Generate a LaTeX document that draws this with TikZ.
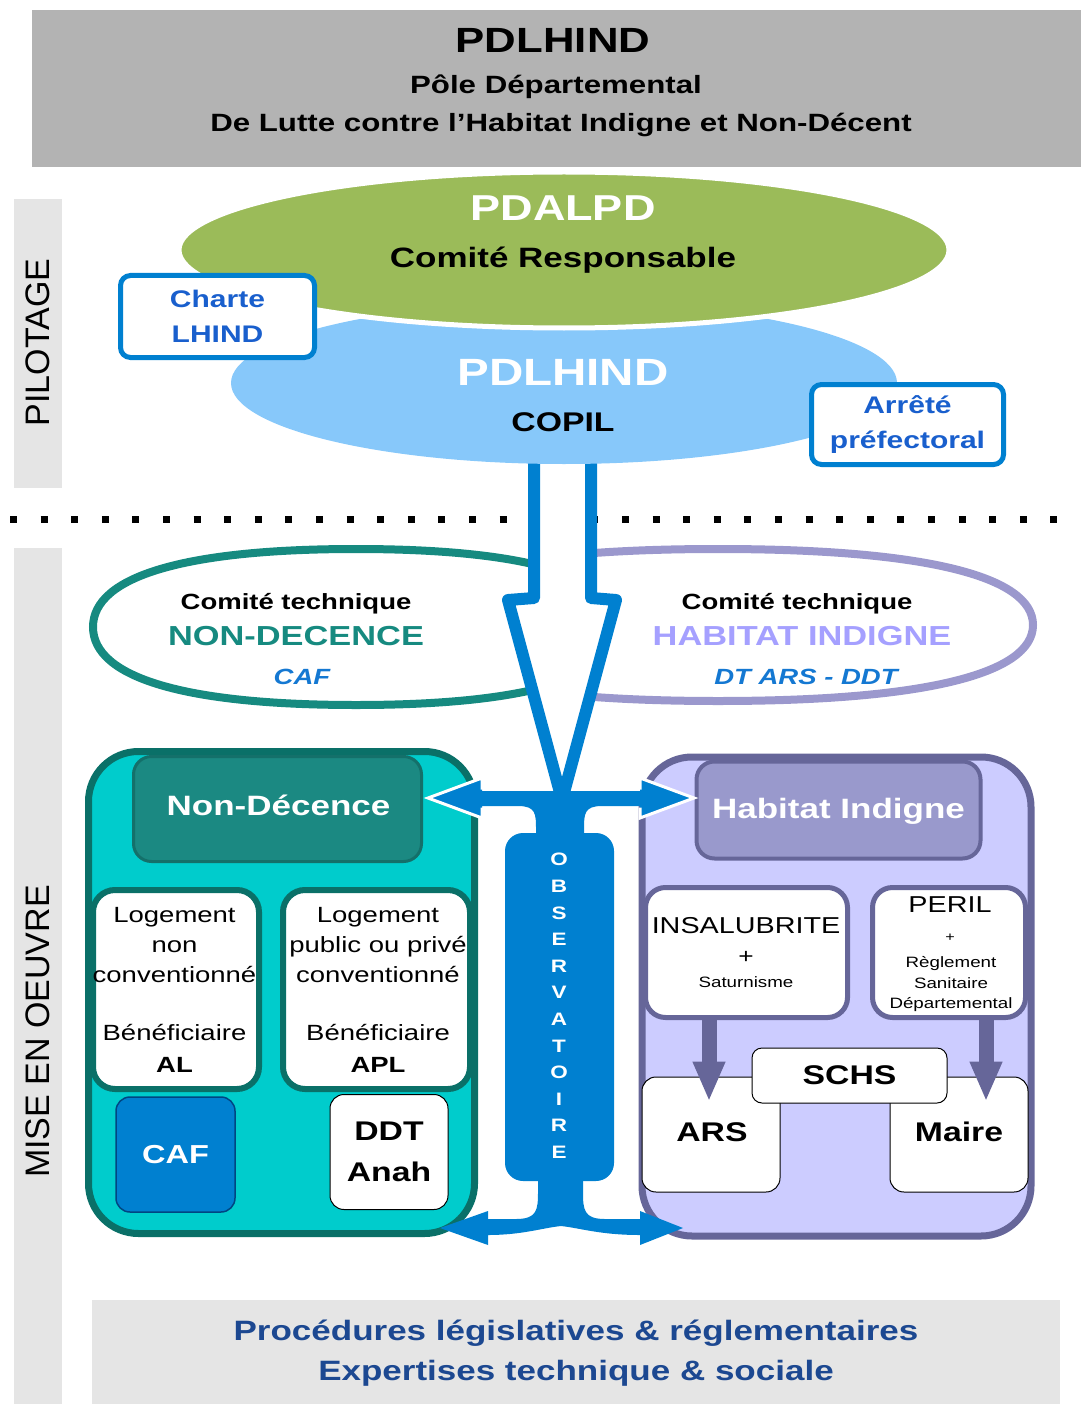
\documentclass[tikz,border=0pt]{standalone}
\usepackage{fontspec}
\setmainfont{Liberation Sans}[FakeStretch=1.25]
\newfontfamily\plainsans{Liberation Sans}
\usetikzlibrary{shapes.geometric,arrows.meta}
\newcommand\fsz[2]{\fontsize{#1pt}{#2pt}\selectfont}
\definecolor{hdrgrey}{RGB}{179,179,179}
\definecolor{sidegrey}{RGB}{229,229,229}
\definecolor{pgreen}{RGB}{155,187,89}
\definecolor{pblue}{RGB}{135,200,250}
\definecolor{abl}{RGB}{0,128,208}
\definecolor{txtblue}{RGB}{25,95,205}
\definecolor{teal1}{RGB}{22,138,128}
\definecolor{lav1}{RGB}{155,152,205}
\definecolor{lavtxt}{RGB}{165,160,255}
\definecolor{itblue}{RGB}{20,120,210}
\definecolor{cyanfill}{RGB}{0,204,204}
\definecolor{tealborder}{RGB}{10,112,104}
\definecolor{tealhead}{RGB}{27,137,130}
\definecolor{tealhd2}{RGB}{20,112,106}
\definecolor{lavfill}{RGB}{204,204,255}
\definecolor{lavborder}{RGB}{102,102,153}
\definecolor{lavhead}{RGB}{153,153,204}
\definecolor{navy}{RGB}{28,72,145}
\definecolor{cafb}{RGB}{0,70,130}
\begin{document}
\begin{tikzpicture}[x=1pt,y=-1pt,
  tx/.style={anchor=base,inner sep=0pt},
  bx/.style={rectangle,inner sep=0pt},
  chbox/.style={bx,draw=abl,line width=5pt,fill=white,rounded corners=10pt,align=center,font=\fsz{24}{35}\bfseries,text=txtblue},
  ndsub/.style={bx,fill=white,draw=tealborder,line width=6pt,rounded corners=22pt},
  hisub/.style={bx,fill=white,draw=lavborder,line width=5pt,rounded corners=20pt},
  agency/.style={bx,fill=white,draw=black,line width=1pt,rounded corners=14pt},
  bigtxt/.style={tx,font=\fsz{27}{30}\bfseries},
  linetxt/.style={align=center,font=\fsz{22}{30}},
  harrow/.style={lavborder,line width=15pt,-{Triangle[width=30pt,length=40pt]}}
]
\path[use as bounding box] (0,0) rectangle (1086,1404);

% ---------- header ----------
\node[bx,fill=hdrgrey,minimum width=1049pt,minimum height=157pt] (hdr) at (556.5,88.5) {};
\node[tx,font=\fsz{35}{40}\bfseries] (t1) at (553,53) {PDLHIND};
\node[tx,font=\fsz{25}{30}\bfseries] (t2) at (556,94) {Pôle Départemental};
\node[tx,font=\fsz{25}{30}\bfseries] (t3) at (561,132) {De Lutte contre l'Habitat Indigne et Non-Décent};

% ---------- side bars ----------
\node[bx,fill=sidegrey,minimum width=48pt,minimum height=289pt] (pilbar) at (37.5,343.5) {};
\node[rotate=90,inner sep=0pt,font=\plainsans\fsz{34}{40}] (pil) at (37.5,342.5) {PILOTAGE};
\node[bx,fill=sidegrey,minimum width=48pt,minimum height=862pt] (meobar) at (37.5,979) {};
\node[rotate=90,inner sep=0pt,font=\plainsans\fsz{34}{40}] (meo) at (37.5,1031.5) {MISE EN OEUVRE};

% ---------- dotted separator ----------
\coordinate (dl) at (10,519);
\coordinate (dr) at (1075,519);
\draw[line width=7pt,dash pattern=on 7pt off 23.6pt] (dl) -- (dr);

% ---------- comites techniques ----------
\begin{scope}
\clip (60,530) rectangle (560,730);
\draw[teal1,line width=8pt,fill=white] (619,627) .. controls (619,677.7) and (527,705) .. (356,705) .. controls (185,705) and (93,677.7) .. (93,627) .. controls (93,576.3) and (185,549) .. (356,549) .. controls (527,549) and (619,576.3) .. (619,627) -- cycle;
\end{scope}
\begin{scope}
\clip (560,530) rectangle (1060,730);
\draw[lav1,line width=8pt,fill=white] (1033,625) .. controls (1033,674.4) and (922.75,701) .. (718,701) .. controls (513.25,701) and (403,674.4) .. (403,625) .. controls (403,575.6) and (513.25,549) .. (718,549) .. controls (922.75,549) and (1033,575.6) .. (1033,625) -- cycle;
\end{scope}
\node[tx,font=\fsz{22}{26}\bfseries] (ct1) at (296,609) {Comité technique};
\node[tx,font=\fsz{27.5}{30}\bfseries,text=teal1] (ndc) at (296,645) {NON-DECENCE};
\node[tx,font=\fsz{22}{26}\bfseries\itshape,text=itblue] (cafc) at (302,684) {CAF};
\node[tx,font=\fsz{22}{26}\bfseries] (ct2) at (797,609) {Comité technique};
\node[tx,font=\fsz{27.5}{30}\bfseries,text=lavtxt] (hic) at (802,645) {HABITAT INDIGNE};
\node[tx,font=\fsz{22}{26}\bfseries\itshape,text=itblue] (dtc) at (806,684) {DT ARS - DDT};

% ---------- big hollow arrow ----------
\draw[abl,line width=12pt,line join=round,fill=white] (534,430) -- (534,598) -- (508,600) -- (562,800) -- (616,600) -- (591,598) -- (591,430);

% ---------- pilotage ellipses ----------
\node[ellipse,fill=pblue,inner sep=0pt,minimum width=666pt,minimum height=162pt] (copil) at (564,383) {};
\node[ellipse,fill=pgreen,draw=white,line width=5pt,inner sep=0pt,minimum width=770pt,minimum height=156pt] (pdalpd) at (564,250) {};
\node[tx,font=\fsz{36}{40}\bfseries,text=white] (t4) at (563,221) {PDALPD};
\node[tx,font=\fsz{28}{32}\bfseries] (t5) at (563,268) {Comité Responsable};
\node[tx,font=\fsz{38}{40}\bfseries,text=white] (t6) at (563,385.5) {PDLHIND};
\node[tx,font=\fsz{27}{30}\bfseries] (t7) at (563,431) {COPIL};

\node[chbox,minimum width=194pt,minimum height=82pt] (charte) at (217.5,316.5) {Charte\\LHIND};
\node[chbox,minimum width=192pt,minimum height=80pt] (arrete) at (907.5,424.5) {Arrêté\\préfectoral};

% ---------- Non-Decence block ----------
\node[bx,fill=cyanfill,draw=tealborder,line width=7pt,rounded corners=50pt,minimum width=386pt,minimum height=482pt] (ndbox) at (281.5,992.5) {};
\node[bx,fill=tealhead,draw=tealhd2,line width=3pt,rounded corners=18pt,minimum width=288pt,minimum height=105pt] (ndhead) at (277.5,809) {};
\node[tx,font=\fsz{28}{32}\bfseries,text=white] (ndheadt) at (278.5,815) {Non-Décence};
\node[ndsub,minimum width=166pt,minimum height=199pt] (lognc) at (176,989.5) {};
\node[linetxt] (lognct) at (174.5,990) {Logement\\non\\conventionné\\[28pt]Bénéficiaire\\[2pt]\textbf{AL}};
\node[ndsub,minimum width=187pt,minimum height=199pt] (logc) at (376.5,989.5) {};
\node[linetxt] (logct) at (378,990) {Logement\\public ou privé\\conventionné\\[28pt]Bénéficiaire\\[2pt]\textbf{APL}};
\node[bx,fill=abl,draw=cafb,line width=1.5pt,rounded corners=14pt,minimum width=119pt,minimum height=115pt,font=\fsz{26}{30}\bfseries,text=white] (caf) at (175.5,1154.5) {CAF};
\node[agency,minimum width=118pt,minimum height=115pt,align=center,font=\fsz{27}{41}\bfseries] (ddt) at (389,1152) {DDT\\Anah};

% ---------- Habitat Indigne block ----------
\node[bx,fill=lavfill,draw=lavborder,line width=7pt,rounded corners=50pt,minimum width=389pt,minimum height=479pt] (hibox) at (836.5,996.5) {};
\node[bx,fill=lavhead,draw=lavborder,line width=4pt,rounded corners=18pt,minimum width=284pt,minimum height=97pt] (hihead) at (838.5,810) {};
\node[tx,font=\fsz{28}{32}\bfseries,text=white] (hiheadt) at (838.5,818) {Habitat Indigne};
\node[hisub,minimum width=202pt,minimum height=130pt] (insal) at (746.5,952.5) {};
\node[tx,font=\fsz{23}{26}] (ins1) at (746,933.5) {INSALUBRITE};
\node[tx,font=\fsz{21}{24}] (ins2) at (746,963) {+};
\node[tx,font=\fsz{15}{18}] (ins3) at (746,987) {Saturnisme};
\node[hisub,minimum width=153pt,minimum height=130pt] (peril) at (949,952.5) {};
\node[tx,font=\fsz{23}{26}] (per1) at (950,912.5) {PERIL};
\node[tx,font=\fsz{13}{14}] (per2) at (950,941.5) {+};
\node[tx,font=\fsz{15}{18}] (per3) at (951,967) {Règlement};
\node[tx,font=\fsz{15}{18}] (per4) at (951,988) {Sanitaire};
\node[tx,font=\fsz{15}{18}] (per5) at (951,1008) {Départemental};
\node[agency,minimum width=138pt,minimum height=115pt] (ars) at (711,1134.5) {};
\node[bigtxt] (arst) at (712,1141) {ARS};
\node[agency,minimum width=138pt,minimum height=115pt] (maire) at (959,1134.5) {};
\node[bigtxt] (mairet) at (959,1141) {Maire};
\node[agency,rounded corners=10pt,minimum width=195pt,minimum height=55pt,font=\fsz{27}{30}\bfseries] (schs) at (849.5,1075.5) {SCHS};
\draw[harrow] ([xshift=-37.5pt]insal.south) -- ([xshift=-2pt,yshift=-25pt]ars.north);
\draw[harrow] ([xshift=37pt]peril.south) -- ([xshift=27pt,yshift=-25pt]maire.north);

% ---------- observatoire and its double arrows ----------
\fill[abl] (428,798) -- (482,778) -- (482,791) -- (640,791) -- (640,778) -- (694,798) -- (640,818) -- (640,806) -- (602,806) .. controls (584,806) and (584,814) .. (584,830) -- (584,845) -- (536,845) -- (536,830) .. controls (536,814) and (536,806) .. (518,806) -- (482,806) -- (482,818) -- cycle;
\draw[white,line width=3pt,line join=miter] (482,789.5) -- (482,778) -- (428,798) -- (482,818) -- (482,807.5);
\draw[white,line width=3pt,line join=miter] (640,789.5) -- (640,778) -- (694,798) -- (640,818) -- (640,807.5);
\fill[abl] (440,1228) -- (488,1211) -- (488,1219) -- (516,1219) .. controls (537,1219) and (538,1210) .. (538,1192) -- (538,1170) -- (583,1170) -- (583,1192) .. controls (583,1210) and (584,1219) .. (605,1219) -- (640,1219) -- (640,1211) -- (683,1228) -- (640,1245) -- (640,1235) .. controls (600,1235) and (580,1228) .. (561,1226) .. controls (542,1228) and (522,1235) .. (488,1235) -- (488,1245) -- cycle;
\node[bx,fill=abl,rounded corners=18pt,minimum width=109pt,minimum height=348pt] (obs) at (559.5,1007) {};
\node[align=center,inner sep=0pt,font=\fsz{18}{26.6}\bfseries,text=white] (obst) at (559,1006) {O\\B\\S\\E\\R\\V\\A\\T\\O\\I\\R\\E};

% ---------- bottom band ----------
\node[bx,fill=sidegrey,minimum width=968pt,minimum height=110pt] (proc) at (576,1355) {};
\node[tx,font=\fsz{28}{32}\bfseries,text=navy] (p1) at (576,1340) {Procédures législatives \& réglementaires};
\node[tx,font=\fsz{28}{32}\bfseries,text=navy] (p2) at (576,1380) {Expertises technique \& sociale};
\end{tikzpicture}
\end{document}
